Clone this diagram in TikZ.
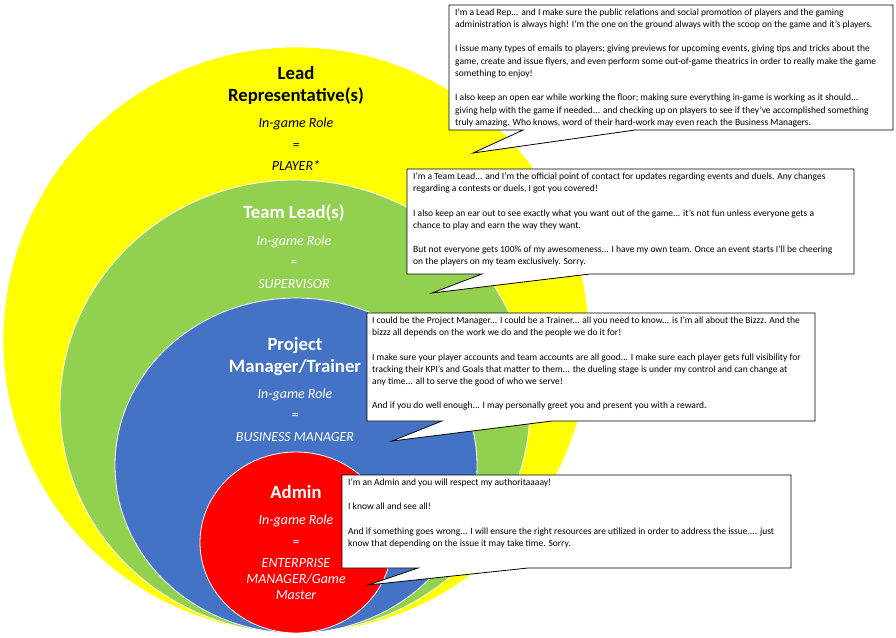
\documentclass[tikz,border=0pt]{standalone}
\usepackage{fontspec}
\setmainfont{Carlito}
\usepackage{tikz}
\definecolor{repyellow}{HTML}{FFFF00}
\definecolor{leadgreen}{HTML}{92D050}
\definecolor{mgrblue}{HTML}{4472C4}
\definecolor{adminred}{HTML}{FF0000}

\begin{document}
\begin{tikzpicture}[x = 1pt, y = -1pt,
              ring/.style = {draw = white, line width = 0.8pt},
              title/.style = {font = \fontsize{18.7}{21.5}\selectfont\bfseries, align = center},
              role/.style = {font = \fontsize{14}{16}\selectfont\itshape, align = center},
              callout/.style = {fill = white, draw = black, line width = 0.8pt},
              note/.style = {font = \fontsize{9.5}{12.2}\selectfont, align = left, anchor = north west, inner sep = 0pt}]
              \useasboundingbox (0,0) rectangle (896,637);
              \fill [white] (0,0) rectangle (896,637);
              \path [ring, fill = repyellow] (296, 340) ellipse [x radius = 293pt, y radius = 293pt];
              \path [ring, fill = leadgreen] (295, 406.5) ellipse [x radius = 235pt, y radius = 226.5pt];
              \path [ring, fill = mgrblue] (296, 465.5) ellipse [x radius = 181pt, y radius = 167.5pt];
              \path [ring, fill = adminred] (296, 542.5) ellipse [x radius = 96pt, y radius = 90.5pt];
              \node [title] (leadtitle) at (296, 85.5) {Lead\\Representative(s)};
              \node [role] (leadrole) at (296, 144.5) {In-game Role\\[5.5pt]=\\[5.5pt]PLAYER*};
              \node [title, white] (teamtitle) at (294, 212.5) {Team Lead(s)};
              \node [role, white] (teamrole) at (294, 262) {In-game Role\\[5.5pt]=\\[5.5pt]SUPERVISOR};
              \node [title, white] (mgrtitle) at (295, 356.5) {Project\\Manager/Trainer};
              \node [role, white] (mgrrole) at (295, 415) {In-game Role\\[5.5pt]=\\[5.5pt]BUSINESS MANAGER};
              \node [title, white] (admintitle) at (296, 492.5) {Admin};
              \node [role, white] (adminrole) at (296, 557.5) {In-game Role\\[5.5pt]=\\[5.5pt]ENTERPRISE\\MANAGER/Game\\Master};
              \foreach \l/\t/\r/\b/\p/\q/\u/\v in {449/5/893/130/523/635/473/153, 407/169/854/274/482/590/432/293,
                367/313/815/421/442/552/392/441, 342/475/791/568/418/528/368/585}
              \path [callout] (\l,\t) -- (\r,\t) -- (\r,\b) -- (\q,\b) -- (\u,\v) -- (\p,\b) -- (\l,\b) -- cycle;
              \node [note] (leadnote) at (455, 8.5) {I'm a Lead Rep... and I make sure the public relations and social promotion of players and the gaming\\
                administration is always high! I'm the one on the ground always with the scoop on the game and it's players.\\[12.2pt]
                I issue many types of emails to players; giving previews for upcoming events, giving tips and tricks about the\\
                game, create and issue flyers, and even perform some out-of-game theatrics in order to really make the game\\
                something to enjoy!\\[12.2pt]
                I also keep an open ear while working the floor; making sure everything in-game is working as it should...\\
                giving help with the game if needed... and checking up on players to see if they've accomplished something\\
                truly amazing. Who knows, word of their hard-work may even reach the Business Managers.};
              \node [note] (teamnote) at (413, 172.5) {I'm a Team Lead... and I'm the official point of contact for updates regarding events and duels. Any changes\\
                regarding a contests or duels, I got you covered!\\[12.2pt]
                I also keep an ear out to see exactly what you want out of the game... it's not fun unless everyone gets a\\
                chance to play and earn the way they want.\\[12.2pt]
                But not everyone gets 100\% of my awesomeness... I have my own team. Once an event starts I'll be cheering\\
                on the players on my team exclusively. Sorry.};
              \node [note] (mgrnote) at (372, 316.5) {I could be the Project Manager... I could be a Trainer... all you need to know... is I'm all about the Bizzz. And the\\
                bizzz all depends on the work we do and the people we do it for!\\[12.2pt]
                I make sure your player accounts and team accounts are all good... I make sure each player gets full visibility for\\
                tracking their KPI's and Goals that matter to them... the dueling stage is under my control and can change at\\
                any time... all to serve the good of who we serve!\\[12.2pt]
                And if you do well enough... I may personally greet you and present you with a reward.};
              \node [note] (adminnote) at (348, 478.5) {I'm an Admin and you will respect my authoritaaaay!\\[12.2pt]
                I know all and see all!\\[12.2pt]
                And if something goes wrong... I will ensure the right resources are utilized in order to address the issue.... just\\
                know that depending on the issue it may take time. Sorry.};
            \end{tikzpicture}
\end{document}
